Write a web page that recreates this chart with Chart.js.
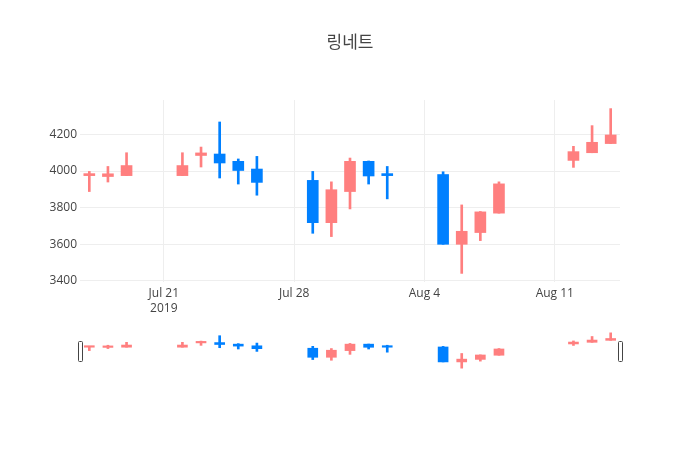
<!DOCTYPE html>
<html>
<head>
<meta charset="utf-8">
<script src="https://cdn.jsdelivr.net/npm/chart.js@4.4.1/dist/chart.umd.min.js"></script>
<style>
  body { margin: 0; background: #fff; }
  #wrap { position: relative; width: 700px; height: 450px; }
  canvas { position: absolute; left: 0; top: 0; }
</style>
</head>
<body>
<div id="wrap">
  <canvas id="main" width="700" height="450"></canvas>
  <canvas id="slider" width="700" height="450"></canvas>
</div>
<script>
const dates = ['2019-07-17', '2019-07-18', '2019-07-19', '2019-07-22', '2019-07-23', '2019-07-24', '2019-07-25',
  '2019-07-26', '2019-07-29', '2019-07-30', '2019-07-31', '2019-08-01', '2019-08-02', '2019-08-05',
  '2019-08-06', '2019-08-07', '2019-08-08', '2019-08-12', '2019-08-13', '2019-08-14'];
const open  = [3975, 3970, 3975, 3975, 4085, 4093, 4053, 4011, 3949, 3718, 3888, 4053, 3984, 3981, 3600, 3664, 3770, 4058, 4100, 4150];
const high  = [3998, 4025, 4100, 4100, 4131, 4268, 4066, 4080, 3998, 3941, 4071, 4055, 4025, 3996, 3815, 3779, 3941, 4135, 4248, 4341];
const low   = [3888, 3940, 3975, 3975, 4022, 3962, 3929, 3868, 3660, 3642, 3793, 3929, 3848, 3600, 3441, 3620, 3770, 4020, 4100, 4150];
const close = [3985, 3985, 4030, 4030, 4099, 4044, 4003, 3938, 3718, 3898, 4053, 3973, 3975, 3600, 3671, 3777, 3930, 4106, 4157, 4197];

const tickDates = ['2019-07-21', '2019-07-28', '2019-08-04', '2019-08-11'];
const tickLabels = [['Jul 21', '2019'], 'Jul 28', 'Aug 4', 'Aug 11'];
const yTicks = [3400, 3600, 3800, 4000, 4200];

const UP = '#ff7f7f';
const DOWN = '#0080ff';
const FONT = '"Open Sans", "Noto Sans CJK KR", sans-serif';

function toDay(s) {
  return new Date(s + 'T00:00:00Z').getTime() / 864e5;
}
const days = dates.map(toDay);
const tickDays = tickDates.map(toDay);
const colors = open.map((o, i) => close[i] >= o ? UP : DOWN);
const xMin = days[0] - 0.5;
const xMax = days[days.length - 1] + 0.5;
const yMin = 3394, yMax = 4388;

function candleSets(bodyW, wickW, minLen) {
  return [
    {
      data: days.map((d, i) => ({ x: d, y: [low[i], high[i]] })),
      backgroundColor: colors,
      barThickness: wickW,
      grouped: false,
      order: 2
    },
    {
      data: days.map((d, i) => ({ x: d, y: [open[i], close[i]] })),
      backgroundColor: colors,
      barThickness: bodyW,
      minBarLength: minLen,
      grouped: false,
      order: 1
    }
  ];
}

Chart.defaults.font.family = FONT;
Chart.defaults.color = '#444';

new Chart(document.getElementById('main'), {
  type: 'bar',
  data: { datasets: candleSets(11, 2, 2) },
  options: {
    responsive: false,
    animation: false,
    plugins: {
      legend: { display: false },
      tooltip: { enabled: false },
      title: {
        display: true,
        text: '링네트',
        color: '#444',
        font: { size: 17, weight: 'normal', family: FONT },
        padding: { top: 33, bottom: 46.6 }
      }
    },
    scales: {
      x: {
        type: 'linear',
        min: xMin,
        max: xMax,
        offset: false,
        afterFit: s => { s.height = 168; },
        afterBuildTicks: s => { s.ticks = tickDays.map(v => ({ value: v })); },
        grid: { color: '#eee', tickLength: 0, offset: false },
        border: { display: false },
        ticks: {
          padding: 4,
          maxRotation: 0,
          font: { size: 12, lineHeight: 1.25 },
          callback: v => {
            const i = tickDays.indexOf(v);
            return i >= 0 ? tickLabels[i] : '';
          }
        }
      },
      y: {
        min: yMin,
        max: yMax,
        afterFit: s => { s.width = 80; },
        afterBuildTicks: s => { s.ticks = yTicks.map(v => ({ value: v })); },
        grid: { color: '#eee', tickLength: 0 },
        border: { display: false },
        ticks: { padding: 3, font: { size: 12 }, callback: v => String(v) }
      },
      yRight: {
        position: 'right',
        afterFit: s => { s.width = 80; },
        grid: { display: false },
        border: { display: false },
        ticks: { display: false }
      }
    }
  }
});

// range slider grab handles
const handles = {
  id: 'handles',
  afterDraw(chart) {
    const { ctx, chartArea } = chart;
    const cy = (chartArea.top + chartArea.bottom) / 2;
    ctx.save();
    ctx.strokeStyle = '#444';
    ctx.fillStyle = '#fff';
    ctx.lineWidth = 1;
    [chartArea.left - 0.5, chartArea.right].forEach(x => {
      ctx.beginPath();
      ctx.roundRect(Math.round(x - 2) + 0.5, Math.round(cy - 10) + 0.5, 4, 20, 1);
      ctx.fill();
      ctx.stroke();
    });
    ctx.restore();
  }
};

new Chart(document.getElementById('slider'), {
  type: 'bar',
  data: { datasets: candleSets(10, 2, 1.5) },
  plugins: [handles],
  options: {
    responsive: false,
    animation: false,
    layout: { padding: { left: 80, right: 80, top: 331, bottom: 80 } },
    plugins: { legend: { display: false }, tooltip: { enabled: false } },
    scales: {
      x: { type: 'linear', min: xMin, max: xMax, offset: false, display: false },
      y: { min: yMin, max: yMax, display: false }
    }
  }
});
</script>
</body>
</html>
